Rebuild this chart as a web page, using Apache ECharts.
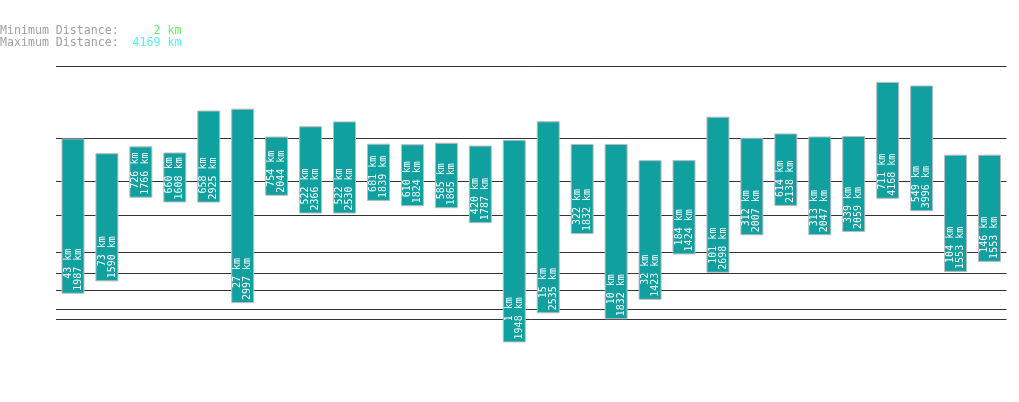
<!DOCTYPE html>
<html>
<head>
<meta charset="utf-8">
<script src="https://cdn.jsdelivr.net/npm/echarts@6/dist/echarts.min.js"></script>
<style>
html,body{margin:0;padding:0;background:#fff;}
#main{width:1019px;height:402px;}
</style>
</head>
<body>
<div id="main"></div>
<script>
const categories = ['1','2','3','4','5','6','7','8','9','10','11','12','13','14','15','16','17','18','19','20','21','22','23','24','25','26','27','28'];
const minDist = [43,73,726,660,658,27,754,522,522,681,610,585,420,1,15,322,10,32,184,101,312,614,313,339,711,549,104,146];
const maxDist = [1987,1590,1766,1608,2925,2997,2044,2366,2530,1839,1824,1865,1787,1948,2535,1832,1832,1423,1424,2698,2007,2138,2047,2059,4168,3996,1553,1553];
const gridValues = [10,20,50,100,200,500,1000,2000,5000];
const summaryMin = 2;
const summaryMax = 4169;
const axisMaxValue = 5000;
const EXP = 0.3;

const tf = v => Math.pow(v, EXP);
const pad = (s, n) => { s = String(s); while (s.length < n) s = ' ' + s; return s; };

const chart = echarts.init(document.getElementById('main'));
const mono = 'DejaVu Sans Mono';

chart.setOption({
  animation: false,
  backgroundColor: '#fff',
  title: {
    left: 0, top: 25, padding: 0,
    text: '{a|Minimum Distance:}{g|' + pad(summaryMin + ' km', 9) + '}\n{a|Maximum Distance:}{c|' + pad(summaryMax + ' km', 9) + '}',
    textStyle: {
      fontFamily: mono, fontSize: 11.6, fontWeight: 'normal', lineHeight: 12,
      rich: {
        a: {color: '#a0a0a0', fontFamily: mono, fontSize: 11.6, lineHeight: 12},
        g: {color: '#66f066', fontFamily: mono, fontSize: 11.6, lineHeight: 12},
        c: {color: '#55eef0', fontFamily: mono, fontSize: 11.6, lineHeight: 12}
      }
    }
  },
  grid: {left: 56, right: 12.5, top: 66, bottom: 36.3, containLabel: false},
  xAxis: {
    type: 'category', data: categories,
    axisLine: {show: false}, axisTick: {show: false}, axisLabel: {show: false}, splitLine: {show: false}
  },
  yAxis: {
    type: 'value', min: 0, max: tf(axisMaxValue),
    axisLine: {show: false}, axisTick: {show: false}, axisLabel: {show: false}, splitLine: {show: false}
  },
  series: [
    {
      type: 'custom', z: 1, silent: true,
      data: gridValues.map(v => [0, tf(v)]),
      encode: {x: 0, y: 1},
      renderItem: (params, api) => {
        const cs = params.coordSys;
        const y = Math.round(api.coord([0, api.value(1)])[1]) + 0.5;
        return {
          type: 'line',
          shape: {x1: cs.x, y1: y, x2: cs.x + cs.width, y2: y},
          style: {stroke: '#333333', lineWidth: 1}
        };
      }
    },
    {
      type: 'bar', stack: 'r', z: 2, barWidth: 23, silent: true,
      itemStyle: {color: 'rgba(0,0,0,0)'},
      data: minDist.map(tf)
    },
    {
      type: 'bar', stack: 'r', z: 3, barWidth: 23,
      itemStyle: {color: '#11a0a0', borderColor: '#bbbbbb', borderWidth: 1},
      data: maxDist.map((v, i) => tf(v) - tf(minDist[i])),
      label: {
        show: true, position: 'insideBottom', rotate: 90, distance: 3,
        align: 'left', verticalAlign: 'middle',
        color: '#ffffff', fontFamily: mono, fontSize: 10, lineHeight: 10,
        formatter: p => {
          const a = minDist[p.dataIndex] + ' km';
          const b = maxDist[p.dataIndex] + ' km';
          const n = Math.max(a.length, b.length);
          return pad(a, n) + '\n' + pad(b, n);
        }
      }
    }
  ]
});
</script>
</body>
</html>
